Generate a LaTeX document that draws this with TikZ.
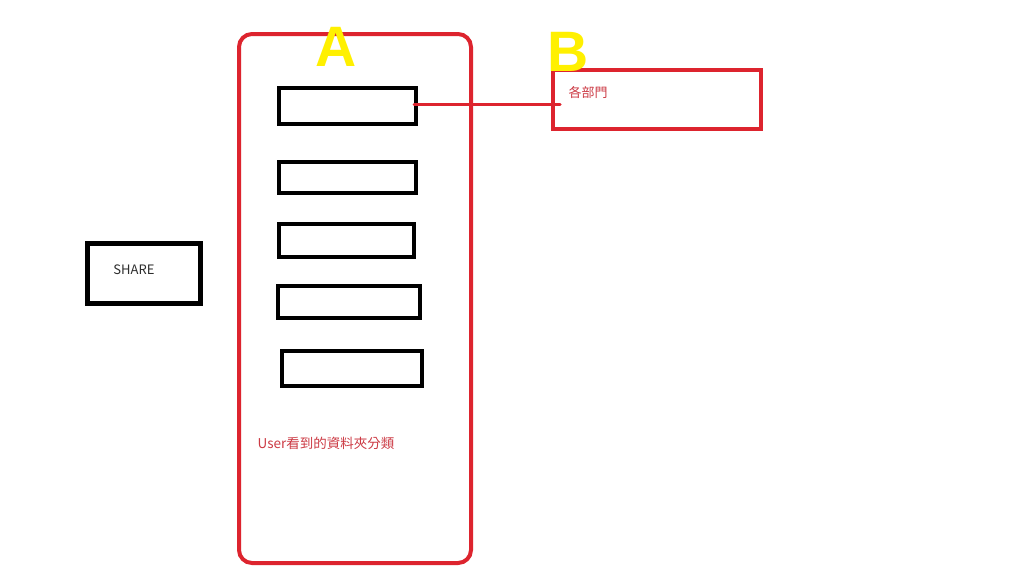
\documentclass[tikz,border=0pt]{standalone}
\usepackage{fontspec}
\setmainfont{Noto Sans CJK TC}
\newfontfamily\letterfont{Liberation Sans}
\usetikzlibrary{calc}
\definecolor{boxred}{RGB}{221,36,46}
\definecolor{notered}{RGB}{204,58,68}
\definecolor{markyellow}{RGB}{255,240,0}
\definecolor{ink}{RGB}{45,45,45}
\tikzset{
  panel/.style={draw=boxred, line width=4pt, rounded corners=13pt, minimum width=232pt, minimum height=529pt, inner sep=0pt},
  deptbox/.style={draw=boxred, line width=4pt, minimum width=208pt, minimum height=59pt, inner sep=0pt},
  folder/.style={draw=black, line width=4pt, inner sep=0pt},
  tagletter/.style={text=markyellow, font=\letterfont\bfseries\fontsize{57}{57}\selectfont, inner sep=0pt},
  note/.style={text=notered, inner sep=0pt, font=\fontsize{#1}{#1}\selectfont},
  note/.default={13},
  link/.style={draw=boxred, line width=3pt, line cap=round}
}
\begin{document}
\begin{tikzpicture}[x=1pt, y=-1pt]
  \useasboundingbox[fill=white] (0,0) rectangle (1024,576);
  % folder panel A
  \node[panel] (panelA) at (355,298.5) {};
  \node[folder, minimum width=137pt, minimum height=36pt] (f1) at (347.5,106) {};
  \node[folder, minimum width=137pt, minimum height=31pt] (f2) at (347.5,177.5) {};
  \node[folder, minimum width=135pt, minimum height=33pt] (f3) at (346.5,240.5) {};
  \node[folder, minimum width=142pt, minimum height=32pt] (f4) at (349,302) {};
  \node[folder, minimum width=140pt, minimum height=35pt] (f5) at (352,368.5) {};
  \node[note=13.5] (userlbl) at (326,443) {User看到的資料夾分類};
  \node[tagletter] (tagA) at (336.5,47) {A};
  % departments B
  \node[deptbox] (dept) at (657,99.5) {};
  \node[note] (deptlbl) at (588,93) {各部門};
  \node[tagletter] (tagB) at (568.5,52) {B};
  % share
  \node[folder, line width=5pt, minimum width=113pt, minimum height=60pt] (share) at (144,273.5) {};
  \node[inner sep=0pt, text=ink, font=\fontsize{13}{13}\selectfont] (sharelbl) at (134,270) {SHARE};
  \draw[link] ([xshift=-4pt,yshift=2pt]f1.east) -- ([xshift=9pt,yshift=2pt]f1.east -| dept.west);
\end{tikzpicture}
\end{document}
